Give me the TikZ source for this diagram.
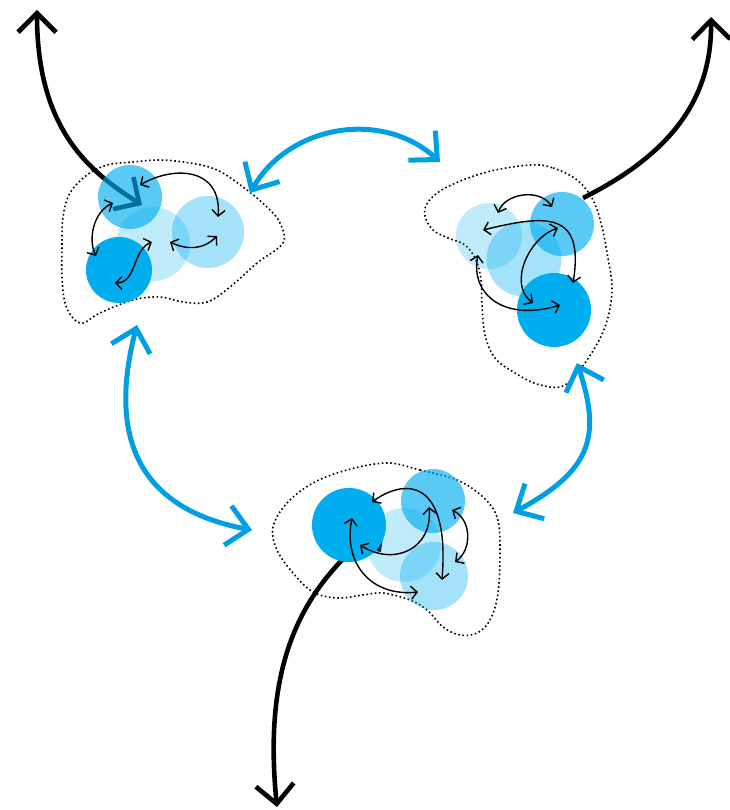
\documentclass[tikz,border=0pt]{standalone}
\usetikzlibrary{arrows.meta}
\definecolor{cy}{RGB}{0,174,239}
\definecolor{bl}{RGB}{0,159,227}
\begin{document}
\begin{tikzpicture}[x=1pt,y=-1pt,
  blob/.style={line width=1.6pt, dash pattern=on 1.6pt off 2.6pt},
  bigblue/.style={draw=bl, line width=5pt, line cap=butt,
    {Straight Barb[length=21pt,width=40pt]}-{Straight Barb[length=21pt,width=40pt]}},
  bigblackboth/.style={draw=black, line width=4.6pt, line cap=butt,
    {Straight Barb[length=19pt,width=38pt]}-{Straight Barb[length=19pt,width=38pt]}},
  bigblackone/.style={draw=black, line width=4.6pt, line cap=butt,
    {Straight Barb[length=19pt,width=38pt]}-},
  small/.style={draw=black, line width=1.4pt,
    {Straight Barb[length=6pt,width=13pt]}-{Straight Barb[length=6pt,width=13pt]}},
  ballS/.style={circle, inner sep=0pt, fill=cy, minimum size=#1},
  ballM/.style={circle, inner sep=0pt, fill=cy, fill opacity=0.65, minimum size=#1},
  ballL/.style={circle, inner sep=0pt, fill=cy, fill opacity=0.36, minimum size=#1},
  ballP/.style={circle, inner sep=0pt, fill=cy, fill opacity=0.25, minimum size=#1}
]
\useasboundingbox (0,0) rectangle (729,810);

% ---------- dotted blobs ----------
\draw[blob] plot[smooth cycle, tension=0.6] coordinates {(283,243) (257,263) (230,287) (207,302) (183,302) (160,297) (133,300) (100,313) (83,323) (73,318) (65,303) (62,277) (62,247) (63,217) (70,193) (87,175) (107,165) (133,162) (160,160) (190,163) (217,170) (243,187) (267,207) (280,223)};
\draw[blob] plot[smooth cycle, tension=0.6] coordinates {(530,165) (553,168) (577,180) (593,200) (602,227) (607,253) (612,290) (605,327) (587,360) (565,385) (540,385) (515,373) (495,358) (485,335) (482,305) (481,280) (476,260) (465,245) (448,238) (433,230) (425,216) (428,202) (447,187) (487,172)};
\draw[blob] plot[smooth cycle, tension=0.6] coordinates {(387,463) (420,470) (457,480) (483,497) (497,517) (500,547) (498,593) (490,620) (477,633) (460,635) (443,627) (427,610) (410,600) (383,593) (363,595) (337,598) (313,592) (293,573) (277,550) (273,527) (287,503) (313,483) (347,470)};

% ---------- black outgoing arrows (under the circles) ----------
\coordinate (tTL) at (37,10);  \coordinate (eTL) at (142,205);
\coordinate (tTR) at (711,17); \coordinate (eTR) at (583,198);
\coordinate (tB) at (277,807); \coordinate (eB) at (385,523);
\draw[bigblackboth] (tTL) .. controls (37,130) and (90,172) .. (eTL);
\draw[bigblackone] (tTR) .. controls (712,97) and (673,153) .. (eTR);
\draw[bigblackboth] (tB) .. controls (262,657) and (305,583) .. (eB);

% ---------- circles ----------
% top-left cluster
\node[ballM=64pt] (c1) at (130,197) {};
\node[ballP=74pt] (c2) at (153,244) {};
\node[ballL=72pt] (c3) at (208,232) {};
\node[ballS=66pt] (c4) at (119,270) {};
% top-right cluster
\node[ballP=66pt] (c5) at (489,236) {};
\node[ballM=64pt] (c6) at (562,224) {};
\node[ballL=75pt] (c7) at (524,259) {};
\node[ballS=74pt] (c8) at (554,310) {};
% bottom cluster
\node[ballS=74pt] (c9) at (349,525) {};
\node[ballM=64pt] (c10) at (433,501) {};
\node[ballP=74pt] (c11) at (404,545) {};
\node[ballL=68pt] (c12) at (434,576) {};

% ---------- small arrows inside clusters ----------
% top-left
\coordinate (a1s) at (140,185); \coordinate (a1e) at (218,217);
\coordinate (a2s) at (113,203); \coordinate (a2e) at (96,256);
\coordinate (a3s) at (152,242); \coordinate (a3e) at (115,283);
\coordinate (a4s) at (170,242); \coordinate (a4e) at (217,236);
\draw[small] (a1s) .. controls (175,165) and (222,168) .. (a1e);
\draw[small] (a2s) .. controls (93,212) and (88,240) .. (a2e);
\draw[small] (a3s) .. controls (132,250) and (137,283) .. (a3e);
\draw[small] (a4s) .. controls (187,250) and (203,250) .. (a4e);
% top-right
\coordinate (b1s) at (498,213); \coordinate (b1e) at (552,207);
\coordinate (b2s) at (483,230); \coordinate (b2e) at (573,283);
\coordinate (b3s) at (558,228); \coordinate (b3e) at (533,303);
\coordinate (b4s) at (478,255); \coordinate (b4e) at (560,305);
\draw[small] (b1s) .. controls (505,193) and (540,188) .. (b1e);
\draw[small] (b2s) .. controls (545,215) and (585,210) .. (b2e);
\draw[small] (b3s) .. controls (528,238) and (508,285) .. (b3e);
\draw[small] (b4s) .. controls (470,295) and (505,322) .. (b4e);
% bottom
\coordinate (d1s) at (372,502); \coordinate (d1e) at (442,580);
\coordinate (d2s) at (352,518); \coordinate (d2e) at (418,592);
\coordinate (d3s) at (360,545); \coordinate (d3e) at (429,507);
\coordinate (d4s) at (452,510); \coordinate (d4e) at (455,562);
\draw[small] (d1s) .. controls (405,478) and (450,478) .. (d1e);
\draw[small] (d2s) .. controls (343,562) and (370,597) .. (d2e);
\draw[small] (d3s) .. controls (395,567) and (433,548) .. (d3e);
\draw[small] (d4s) .. controls (472,520) and (472,550) .. (d4e);

% ---------- blue arrows between clusters ----------
\coordinate (u1) at (250,193); \coordinate (u2) at (440,162);
\coordinate (v1) at (137,325); \coordinate (v2) at (252,530);
\coordinate (w1) at (577,363); \coordinate (w2) at (513,513);
\draw[bigblue] (u1) .. controls (289,125) and (382,109) .. (u2);
\draw[bigblue] (v1) .. controls (103,455) and (155,512) .. (v2);
\draw[bigblue] (w1) .. controls (603,440) and (588,472) .. (w2);
\end{tikzpicture}
\end{document}
